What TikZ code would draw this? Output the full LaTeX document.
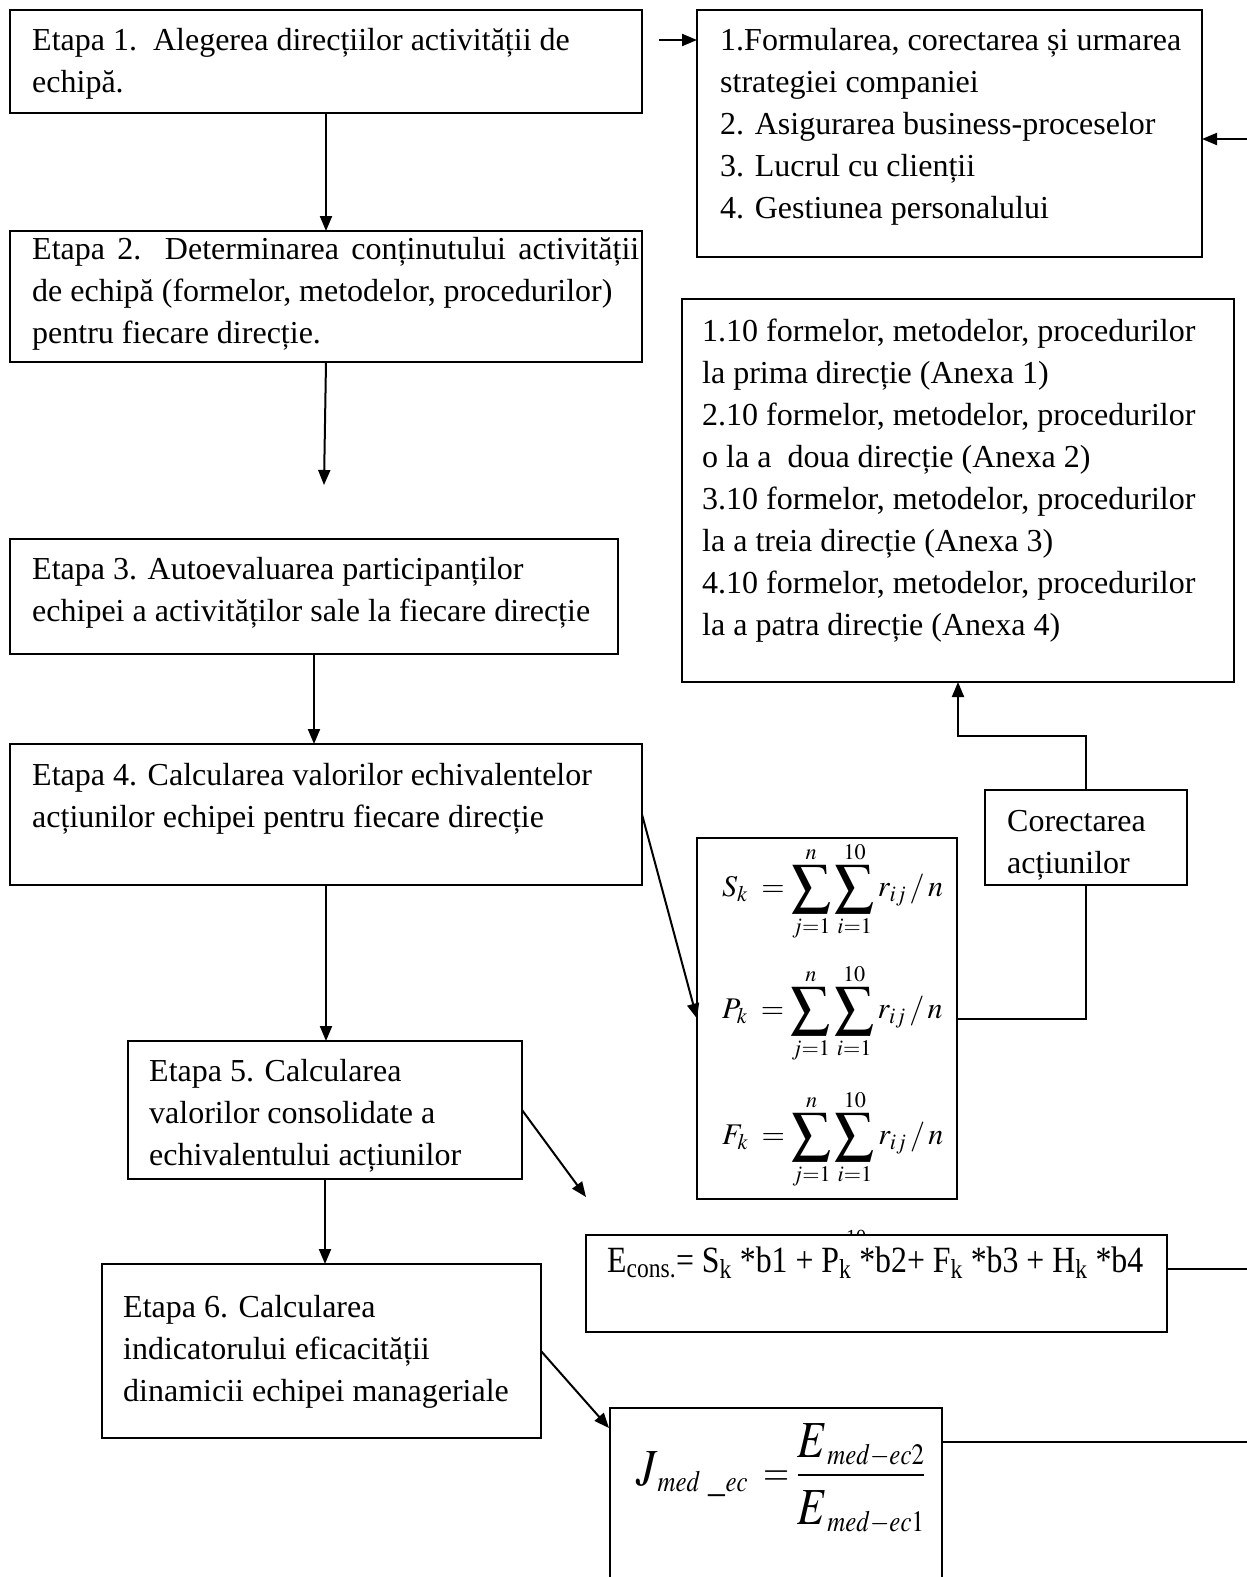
\documentclass[tikz,border=0pt]{standalone}
\usepackage{mathptmx}
\usepackage{fontspec}
\setmainfont{Liberation Serif}
\usetikzlibrary{arrows.meta,calc}
\tikzset{
  box/.style={draw, line width=1.6pt, fill=white, anchor=north west, inner sep=0pt, outer sep=0pt},
  txt/.style={anchor=base west, align=left, inner sep=0pt, font=\fontsize{32}{42.1}\selectfont},
  frm/.style={anchor=west, inner sep=0pt, font=\fontsize{30}{36}\selectfont},
  arr/.style={line width=2pt, -{Triangle[length=15pt,width=12pt]}},
  ln/.style={line width=2pt},
}
\newcommand{\mkbox}[5]{\node[box, minimum width=#4-#2, minimum height=#5-#3] (#1) at (#2,#3) {};}
\newcommand{\bsum}{\mathop{\vcenter{\hbox{\scalebox{1.3}{$\displaystyle\sum$}}}}\limits}
\newcommand{\dsum}{\bsum_{j=1}^{n}\bsum_{i=1}^{10} r_{ij}\,/\,n}
\newcommand{\BigL}[1]{\mbox{\scalebox{1.3}{$#1$}}}
\begin{document}
\begin{tikzpicture}[x=1pt,y=-1pt]
\clip (0,0) rectangle (1247,1577);
\fill[white] (0,0) rectangle (1247,1577);
% left column
\mkbox{b1}{10}{10}{642}{113}
\mkbox{b2}{10}{231}{642}{362}
\mkbox{b3}{10}{539}{618}{654}
\mkbox{b4}{10}{744}{642}{885}
\mkbox{b5}{128}{1041}{522}{1179}
\mkbox{b6}{102}{1264}{541}{1438}
% right column
\mkbox{bA}{697}{10}{1202}{257}
\mkbox{bB}{682}{299}{1234}{682}
\mkbox{bC}{985}{790}{1187}{885}
\mkbox{bF}{697}{838}{957}{1199}
% artifact above E box
\node[anchor=base west, inner sep=0pt, font=\fontsize{20}{24}\selectfont] (artn) at (812,1244) {$n$};
\node[anchor=base west, inner sep=0pt, font=\fontsize{20}{24}\selectfont] (art10) at (846,1243) {10};
\mkbox{bE}{586}{1235}{1167}{1332}
\mkbox{bJ}{610}{1408}{942}{1620}

% texts (anchored at the baseline of their last line)
\node[txt] (t1) at (32,92.1) {Etapa 1.\ \ Alegerea direcțiilor activității de\\echipă.};
\node[txt] (t2) at (32,343.2) {\makebox[607pt][s]{Etapa 2. Determinarea conținutului activității}\\de echipă (formelor, metodelor, procedurilor)\\pentru fiecare direcție.};
\node[txt] (t3) at (32,621.1) {Etapa 3. Autoevaluarea participanților\\echipei a activităților sale la fiecare direcție};
\node[txt] (t4) at (32,827.1) {Etapa 4. Calcularea valorilor echivalentelor\\acțiunilor echipei pentru fiecare direcție};
\node[txt] (t5) at (149,1165.2) {Etapa 5. Calcularea\\valorilor consolidate a\\echivalentului acțiunilor};
\node[txt] (t6) at (123,1401.2) {Etapa 6. Calcularea\\indicatorului eficacității\\dinamicii echipei manageriale};
\node[txt] (tA) at (720,218.4) {1.Formularea, corectarea și urmarea\\strategiei companiei\\2. Asigurarea business-proceselor\\3. Lucrul cu clienții\\4. Gestiunea personalului};
\node[txt] (tB) at (702,635.7) {1.10 formelor, metodelor, procedurilor\\la prima direcție (Anexa 1)\\2.10 formelor, metodelor, procedurilor\\o la a\ \ doua direcție (Anexa 2)\\3.10 formelor, metodelor, procedurilor\\la a treia direcție (Anexa 3)\\4.10 formelor, metodelor, procedurilor\\la a patra direcție (Anexa 4)};
\node[txt] (tC) at (1007,873.1) {Corectarea\\acțiunilor};

% formulas
\node[frm] (fS) at (722,891) {$\displaystyle S_{k}\;=\dsum$};
\node[frm] (fP) at (722,1013) {$\displaystyle P_{k}\;=\dsum$};
\node[frm] (fF) at (722,1139) {$\displaystyle F_{k}\;=\dsum$};
\node[anchor=base west, inner sep=0pt, font=\fontsize{37}{44}\selectfont] (fE) at (607,1272) {\scalebox{0.86}[1]{E\textsubscript{cons.}= S\textsubscript{k} *b1 + P\textsubscript{k} *b2+ F\textsubscript{k} *b3 + H\textsubscript{k} *b4}};
\node[anchor=base west, inner sep=0pt, font=\fontsize{40}{48}\selectfont] (fJ) at (636,1485) {\scalebox{0.84}[1]{$\displaystyle \BigL{J}_{med\ \_ec}\;=\frac{\BigL{E}_{med{-}ec2}}{\rule{0pt}{44pt}\BigL{E}_{med{-}ec1}}$}};

% coordinates for free ends
\coordinate (c2) at (324,485);
\coordinate (aL) at (659,40);
\coordinate (aR) at (1247,139);
\coordinate (eR) at (1247,1269);
\coordinate (jR) at (1247,1442);
\coordinate (c5) at (586,1197);
\coordinate (jIn) at (609,1428);

% connectors
\draw[arr] (b1.south) -- (b2.north);
\draw[arr] (b2.south) -- (c2);
\draw[arr] (b3.south) -- (b3.south |- b4.north);
\draw[arr] (b4.south) -- (b4.south |- b5.north);
\draw[arr] (b5.south) -- (b5.south |- b6.north);
\draw[arr] (b4.east) -- (bF.west);
\draw[arr] (b5.east) -- (c5);
\draw[arr] (b6.east) -- (jIn);
\draw[arr] (aL) -- (aL -| bA.west);
\draw[arr] (aR) -- (aR -| bA.east);
\draw[arr] (bC.north) -- ++(0,-54) -| (bB.south);
\draw[ln] (bC.south) |- (bF.east);
\draw[ln] (eR -| bE.east) -- (eR);
\draw[ln] (jR -| bJ.east) -- (jR);
\end{tikzpicture}
\end{document}
